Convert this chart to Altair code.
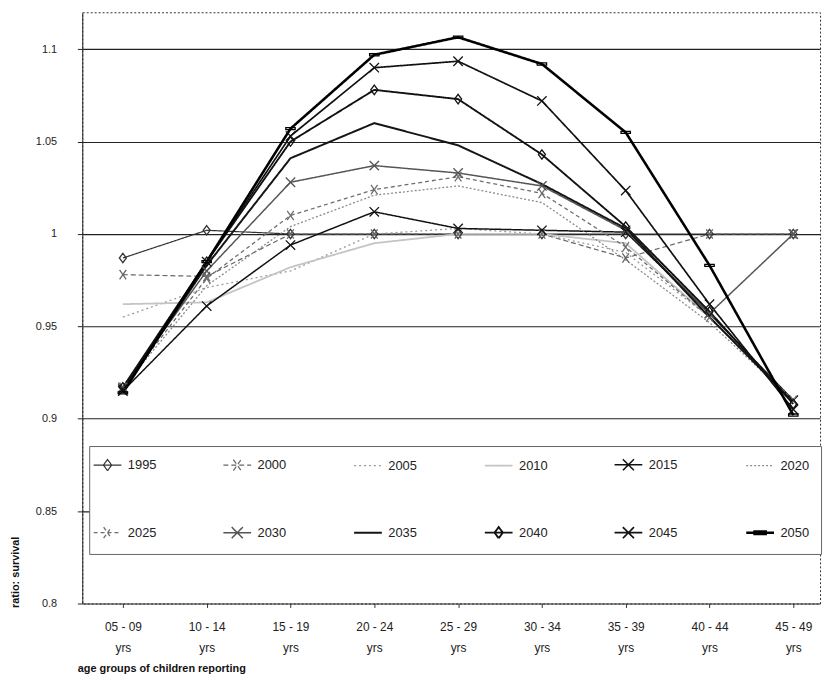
import re
import altair as alt
import pandas as pd

ages = ["05 - 09", "10 - 14", "15 - 19", "20 - 24", "25 - 29",
        "30 - 34", "35 - 39", "40 - 44", "45 - 49"]
years = ["1995", "2000", "2005", "2010", "2015", "2020",
         "2025", "2030", "2035", "2040", "2045", "2050"]

r1995 = [0.987, 1.002, 1.000, 1.000, 1.000, 1.000, 1.000, 1.000, 1.000]
r2000 = [0.978, 0.977, 1.000, 1.000, 1.000, 1.000, 0.987, 1.000, 1.000]
r2005 = [0.955, 0.971, 0.980, 1.000, 1.003, 1.000, 0.990, 0.955, 0.910]
r2010 = [0.962, 0.963, 0.982, 0.995, 1.000, 1.000, 0.995, 0.955, 0.910]
r2015 = [0.915, 0.961, 0.994, 1.012, 1.003, 1.002, 1.001, 0.957, 0.910]
r2020 = [0.917, 0.972, 1.004, 1.021, 1.026, 1.017, 0.986, 0.952, 0.910]
r2025 = [0.917, 0.976, 1.010, 1.024, 1.031, 1.022, 0.993, 0.955, 0.910]
r2030 = [0.917, 0.980, 1.028, 1.037, 1.033, 1.026, 1.002, 0.957, 1.000]
r2035 = [0.915, 0.983, 1.041, 1.060, 1.048, 1.027, 1.003, 0.955, 0.909]
r2040 = [0.917, 0.985, 1.050, 1.078, 1.073, 1.043, 1.004, 0.958, 0.908]
r2045 = [0.916, 0.985, 1.053, 1.090, 1.0935, 1.072, 1.0235, 0.962, 0.905]
r2050 = [0.914, 0.985, 1.057, 1.097, 1.1065, 1.092, 1.055, 0.983, 0.902]

series = [r1995, r2000, r2005, r2010, r2015, r2020,
          r2025, r2030, r2035, r2040, r2045, r2050]

y_ticks = [0.8, 0.85, 0.9, 0.95, 1.0, 1.05, 1.1]

# ---- styles ----
colors = ["#333333", "#666666", "#9a9a9a", "#c4c4c4", "#111111", "#8a8a8a",
          "#6e6e6e", "#555555", "#151515", "#111111", "#111111", "#000000"]
dashes = [[1, 0], [5, 3], [2, 3], [1, 0], [1, 0], [2, 2],
          [4, 3], [1, 0], [1, 0], [1, 0], [1, 0], [1, 0]]
widths = [1.2, 1.2, 1.3, 1.8, 1.5, 1.3, 1.3, 1.5, 2.0, 1.9, 1.7, 2.6]
marker_kind = ["diamond", "xs", None, None, "x", None,
               "xs", "x", None, "diamond", "x", "bar"]
paths = {
    "diamond": "M0,-1L0.75,0L0,1L-0.75,0Z",
    "x": "M-1,-1L1,1M-1,1L1,-1",
    "xs": "M-0.7,-1L0.7,1M-0.7,1L0.7,-1",
    "bar": "M-1,-0.22L1,-0.22L1,0.22L-1,0.22Z",
}


def scale_path(p, s):
    return re.sub(r"-?\d+(?:\.\d+)?", lambda m: f"{float(m.group()) * s:.3g}", p)


def legend_path(kind):
    base = "M-1,0L1,0"
    return base if kind is None else base + scale_path(paths[kind], 0.4)


def expr_map(values, quote, default):
    out = default
    for yr, v in reversed(list(zip(years, values))):
        val = f"'{v}'" if quote else f"{v}"
        out = f"datum.value === '{yr}' ? {val} : ({out})"
    return out


shape_expr = expr_map([legend_path(k) for k in marker_kind], True, "'M-1,0L1,0'")
sw_expr = expr_map(widths, False, "1")

rows = []
for yr, vals, w in zip(years, series, widths):
    for i, (a, v) in enumerate(zip(ages, vals)):
        rows.append({"year": yr, "idx": i, "age": a, "value": v, "sw": w})
df = pd.DataFrame(rows)

marker_years = [y for y, k in zip(years, marker_kind) if k]
marker_paths = [paths[k] for k in marker_kind if k]

label_expr = "[" + ",".join(f"['{a}','yrs']" for a in ages) + "][datum.value]"

x_enc = alt.X(
    "idx:Q",
    scale=alt.Scale(domain=[-0.4845, 8.319], nice=False, zero=False),
    axis=alt.Axis(values=list(range(len(ages))), labelExpr=label_expr,
                  grid=False, domain=False, tickSize=4, tickColor="#333",
                  labelPadding=14, labelFontSize=12, labelLineHeight=21,
                  labelColor="#222", labelFont="Liberation Sans",
                  title="age groups of children reporting",
                  titleFontSize=11, titleFontWeight="bold",
                  titleAlign="left", titleX=-5, titleY=66,
                  titleBaseline="middle", titleColor="#111"),
)
y_enc = alt.Y(
    "value:Q",
    scale=alt.Scale(domain=[0.8, 1.12], nice=False, zero=False),
    axis=alt.Axis(values=y_ticks, format="~g", grid=True, gridColor="#222",
                  gridWidth=1.1, domain=True, domainColor="#222",
                  tickSize=5, tickColor="#222", labelPadding=21,
                  labelFontSize=11, labelColor="#222",
                  labelFont="Liberation Sans",
                  title="ratio: survival", titleFontSize=11,
                  titleFontWeight="bold", titleAngle=270, titleAlign="left",
                  titleX=-67, titleY=601, titleBaseline="middle",
                  titleColor="#111"),
)

legend = alt.Legend(
    title=None, orient="none", legendX=7, legendY=438,
    direction="horizontal", columns=6, columnPadding=64, rowPadding=50,
    symbolSize=784, labelFontSize=13, labelFont="Liberation Sans",
    labelColor="#222", labelOffset=14, fillColor="white", strokeColor="#666",
    padding=12,
    symbolType={"expr": shape_expr},
    symbolStrokeWidth={"expr": sw_expr},
)

lines = alt.Chart(df).mark_line().encode(
    x=x_enc,
    y=y_enc,
    color=alt.Color("year:N", scale=alt.Scale(domain=years, range=colors),
                    legend=legend),
    strokeDash=alt.StrokeDash("year:N",
                              scale=alt.Scale(domain=years, range=dashes),
                              legend=legend),
    strokeWidth=alt.StrokeWidth("sw:Q", scale=None, legend=None),
    order="idx:Q",
)

points = alt.Chart(df).transform_filter(
    alt.FieldOneOfPredicate(field="year", oneOf=marker_years)
).mark_point(filled=False, size=90, strokeWidth=1.3, opacity=1).encode(
    x=x_enc,
    y=y_enc,
    color=alt.Color("year:N", scale=alt.Scale(domain=years, range=colors),
                    legend=None),
    shape=alt.Shape("year:N",
                    scale=alt.Scale(domain=marker_years, range=marker_paths),
                    legend=None),
)

chart = alt.layer(lines, points).properties(
    width=745, height=597,
    autosize=alt.AutoSizeParams(type="none"),
    padding={"left": 75, "top": 1, "right": 5, "bottom": 80},
).configure(font="Liberation Sans").configure_view(
    stroke="#333", strokeDash=[2, 2], strokeWidth=1
)

chart.save("out.html", embed_options={"renderer": "svg", "actions": False})
